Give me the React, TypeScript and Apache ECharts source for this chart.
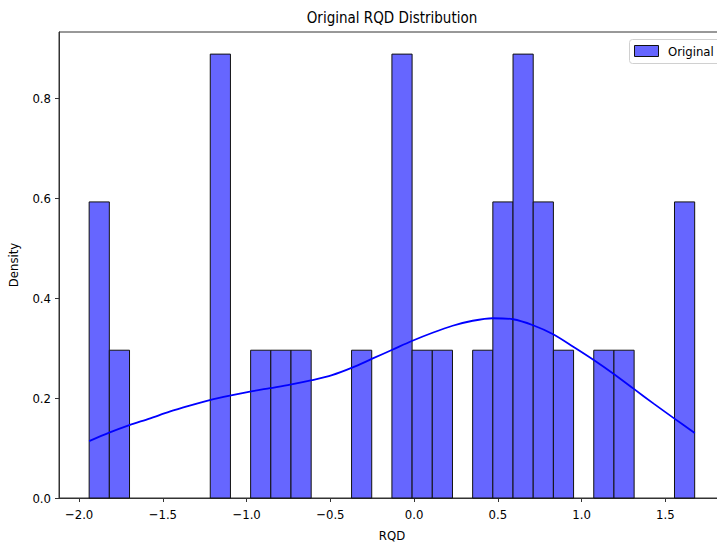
import React, { useEffect, useRef } from "react";
import * as echarts from "echarts";

const BIN_START = -1.94;
const BIN_WIDTH = 0.1205;
const densities = [
  0.593, 0.296, 0, 0, 0, 0, 0.889, 0, 0.296, 0.296, 0.296, 0, 0, 0.296, 0,
  0.889, 0.296, 0.296, 0, 0.296, 0.593, 0.889, 0.593, 0.296, 0, 0.296, 0.296,
  0, 0, 0.593,
];

const kdeX = [
  -1.94, -1.82, -1.7, -1.58, -1.46, -1.34, -1.22, -1.1, -0.98, -0.86, -0.74,
  -0.61, -0.49, -0.37, -0.25, -0.13, -0.01, 0.11, 0.23, 0.35, 0.47, 0.59, 0.71,
  0.83, 0.95, 1.07, 1.19, 1.31, 1.43, 1.55, 1.675,
];
const kdeY = [
  0.114, 0.131, 0.146, 0.159, 0.173, 0.185, 0.196, 0.205, 0.213, 0.22, 0.227,
  0.236, 0.246, 0.261, 0.279, 0.297, 0.315, 0.331, 0.345, 0.355, 0.36, 0.358,
  0.346, 0.328, 0.303, 0.277, 0.249, 0.219, 0.189, 0.16, 0.13,
];

const xTicks = [-2.0, -1.5, -1.0, -0.5, 0.0, 0.5, 1.0, 1.5];
const yTicks = [0.0, 0.2, 0.4, 0.6, 0.8];

const FONT = "'DejaVu Sans Condensed', 'DejaVu Sans', sans-serif";
const fmt = (v: number) => {
  const s = Math.abs(v).toFixed(1);
  return v < -1e-9 ? "\u2212" + s : s;
};

export default function App() {
  const ref = useRef<HTMLDivElement>(null);
  useEffect(() => {
    if (!ref.current) return;
    const chart = echarts.init(ref.current, null, { renderer: "svg" });
    const bars = densities
      .map((d, i) => [BIN_START + i * BIN_WIDTH, BIN_START + (i + 1) * BIN_WIDTH, d])
      .filter((b) => b[2] > 0);
    const kde = kdeX.map((x, i) => [x, kdeY[i]]);
    chart.setOption({
      animation: false,
      backgroundColor: "#ffffff",
      textStyle: { fontFamily: FONT },
      grid: {
        left: 59,
        top: 32,
        right: -8,
        bottom: 46,
        show: true,
        borderColor: "#333",
        borderWidth: 1,
        containLabel: false,
        outerBoundsMode: "none",
      },
      xAxis: {
        type: "value",
        min: -2.12,
        max: 1.856,
        name: "RQD",
        nameLocation: "middle",
        nameGap: 31,
        nameTextStyle: { fontFamily: FONT, fontSize: 13, color: "#000" },
        splitLine: { show: false },
        axisLine: { show: true, onZero: false, lineStyle: { color: "#333", width: 1 } },
        axisTick: { show: true, length: 4, customValues: xTicks, lineStyle: { color: "#333" } },
        axisLabel: {
          customValues: xTicks,
          formatter: (v: number) => fmt(v),
          fontFamily: FONT,
          fontSize: 13,
          color: "#000",
          margin: 10,
        },
      },
      yAxis: {
        type: "value",
        min: 0,
        max: 0.9333,
        name: "Density",
        nameLocation: "middle",
        nameGap: 39,
        nameTextStyle: { fontFamily: FONT, fontSize: 13, color: "#000" },
        splitLine: { show: false },
        axisLine: { show: true, onZero: false, lineStyle: { color: "#333", width: 1 } },
        axisTick: { show: true, length: 4, customValues: yTicks, lineStyle: { color: "#333" } },
        axisLabel: {
          customValues: yTicks,
          formatter: (v: number) => fmt(v),
          fontFamily: FONT,
          fontSize: 13,
          color: "#000",
          margin: 8,
        },
      },
      series: [
        {
          type: "custom",
          name: "Original",
          data: bars,
          encode: { x: [0, 1], y: 2 },
          z: 2,
          renderItem: (_p: any, api: any) => {
            const p0 = api.coord([api.value(0), api.value(2)]);
            const p1 = api.coord([api.value(1), 0]);
            return {
              type: "rect",
              shape: { x: p0[0], y: p0[1], width: p1[0] - p0[0], height: p1[1] - p0[1] },
              style: { fill: "#6666ff", stroke: "#111", lineWidth: 1 },
            };
          },
        },
        {
          type: "line",
          name: "KDE",
          data: kde,
          smooth: 0.3,
          symbol: "none",
          z: 3,
          lineStyle: { color: "#0000ff", width: 1.8 },
        },
      ],
      graphic: [
        {
          type: "text",
          x: 392,
          y: 18,
          style: {
            text: "Original RQD Distribution",
            fontFamily: FONT,
            fontSize: 15,
            fill: "#000",
            align: "center",
            verticalAlign: "middle",
          },
        },
        {
          type: "rect",
          shape: { x: 629.5, y: 39.5, width: 100, height: 24, r: 3 },
          style: { fill: "rgba(255,255,255,0.8)", stroke: "#d0d0d0", lineWidth: 1 },
          z: 10,
        },
        {
          type: "rect",
          shape: { x: 634.5, y: 45.5, width: 24, height: 11 },
          style: { fill: "#6666ff", stroke: "#111", lineWidth: 1 },
          z: 11,
        },
        {
          type: "text",
          x: 668,
          y: 51,
          style: {
            text: "Original",
            fontFamily: FONT,
            fontSize: 13,
            fill: "#000",
            align: "left",
            verticalAlign: "middle",
          },
          z: 11,
        },
      ],
    });
    return () => chart.dispose();
  }, []);
  return (
    <div
      ref={ref}
      style={{ position: "absolute", left: 0, top: 0, width: 717, height: 544, background: "#fff" }}
    />
  );
}
